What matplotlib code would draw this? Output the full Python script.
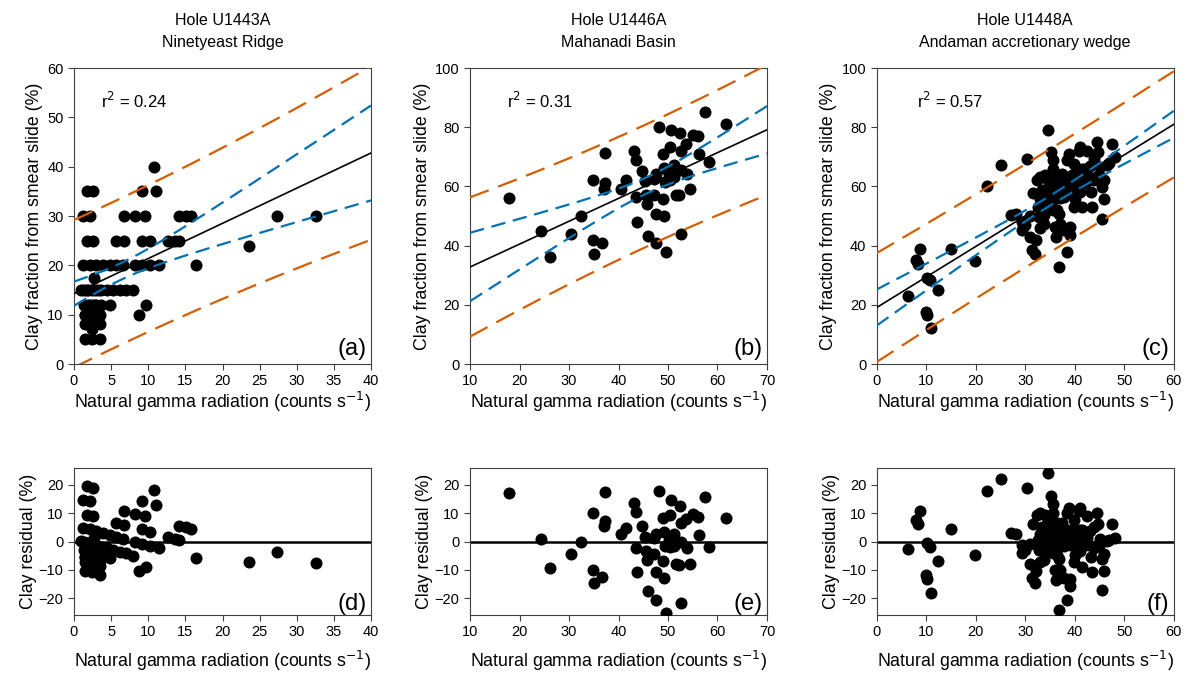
import numpy as np
import matplotlib
matplotlib.use("Agg")
import matplotlib.pyplot as plt

plt.rcParams['font.family'] = ['Liberation Sans', 'DejaVu Sans']

# Hole U1443A - Ninetyeast Ridge
a_x = [1.8, 2.5, 9.1, 11.0, 10.8,
       1.25, 2.2, 6.8, 8.2, 9.5, 14.2, 15.1, 15.8, 27.3, 32.6,
       1.7, 2.6, 5.7, 6.8, 9.1, 10.2, 12.7, 13.6, 14.2, 23.6,
       1.25, 2.1, 3.0, 3.9, 4.8, 5.7, 6.6, 8.2, 9.1, 10.2, 11.5, 16.4,
       2.7, 1.0, 1.9, 2.8, 3.7, 4.4, 5.3, 6.2, 7.0, 8.0,
       1.9, 2.8, 3.7, 4.8, 9.7, 1.5, 2.4, 3.3, 8.8,
       1.5, 2.6, 3.5, 2.4, 1.5, 2.4, 3.5,
       1.5, 2.0, 2.6, 3.0, 2.2, 1.3, 1.8, 2.4, 3.2, 1.4,
       2.6, 3.5, 2.9]
a_y = [35, 35, 35, 35, 40,
       30, 30, 30, 30, 30, 30, 30, 30, 30, 30,
       25, 25, 25, 25, 25, 25, 25, 25, 25, 24,
       20, 20, 20, 20, 20, 20, 20, 20, 20, 20, 20, 20,
       17.5, 15, 15, 15, 15, 15, 15, 15, 15, 15,
       12, 12, 12, 12, 12, 10, 10, 10, 10,
       8.2, 8.2, 8.2, 7, 5, 5, 5,
       10, 10, 10, 12, 12, 12, 15, 15, 15, 15,
       12, 10, 10]

# Hole U1446A - Mahanadi Basin
b_x = [17.9, 24.4, 26.1, 30.4, 32.5, 34.9, 34.9, 35.0, 36.6, 37.2,
       37.2, 37.0, 40.6, 41.6, 43.1, 43.6, 43.8, 44.7, 43.6, 45.3,
       45.6, 45.8, 46.0, 47.2, 47.5, 47.5, 47.5, 48.2, 49.1, 48.9,
       48.9, 49.1, 49.5, 50.5, 50.7, 50.2, 50.4, 51.2, 51.6, 52.4,
       52.6, 52.6, 52.6, 53.6, 53.9, 54.5, 55.0, 56.1, 56.3, 57.4,
       58.3, 61.7, 52.2, 51.2, 47.2, 49.3]
b_y = [56.2, 44.9, 36.0, 44.0, 50.1, 62.0, 42.0, 37.3, 40.9, 71.2,
       61.1, 59.2, 59.2, 62.0, 72.1, 69.0, 48.0, 65.2, 56.4, 61.8,
       57.0, 53.9, 43.1, 62.6, 64.3, 40.9, 50.8, 80.0, 49.9, 71.0,
       55.8, 66.3, 37.9, 73.3, 78.9, 64.3, 62.0, 63.1, 57.0, 78.0,
       44.0, 65.4, 72.1, 74.4, 64.3, 59.2, 77.2, 76.9, 71.0, 85.1,
       68.2, 81.1, 57.0, 67.1, 57.0, 61.5]

# Hole U1448A - Andaman accretionary wedge
c_x = [6.4, 8.0, 8.8, 8.4, 10.0, 10.2, 10.2, 10.8, 10.9, 12.3,
       15.0, 19.9, 22.3, 25.2, 27.2, 28.2, 29.3, 30.3, 29.3, 30.9,
       31.4, 32.0, 32.2, 31.6, 32.4, 33.0, 33.4, 33.7, 34.7, 35.2,
       35.7, 34.7, 35.4, 34.9, 35.7, 36.1, 36.3, 36.8, 37.1, 37.4,
       37.1, 37.8, 38.4, 38.4, 39.1, 39.1, 38.8, 39.1, 40.1, 40.8,
       41.1, 41.5, 42.5, 42.1, 43.2, 43.5, 43.8, 44.4, 44.5, 44.8,
       45.2, 45.5, 45.9, 45.6, 46.5, 47.5, 48.2, 33.0, 34.4, 39.8,
       36.4, 32.7, 34.1, 39.8, 41.1, 37.8, 36.8, 41.1, 42.8, 33.7,
       35.7, 39.8, 43.8,
       31.0, 32.5, 33.5, 34.0, 35.0, 35.5, 36.0, 36.5, 37.0, 37.5,
       38.0, 38.5, 39.0, 39.5, 40.0, 40.5, 41.0, 41.5, 42.0, 42.5,
       43.0, 44.0, 45.0, 46.0, 47.0, 30.0, 33.0, 36.5]
c_y = [22.9, 35.1, 39.0, 33.9, 17.6, 16.5, 28.9, 28.3, 12.0, 24.9,
       39.0, 34.8, 60.0, 67.1, 50.2, 50.8, 48.0, 69.3, 45.2, 42.9,
       38.4, 37.3, 41.8, 57.8, 62.0, 63.1, 58.7, 50.2, 79.1, 71.6,
       69.0, 62.0, 59.8, 54.7, 51.9, 46.3, 42.9, 32.8, 47.4, 64.3,
       59.8, 56.4, 68.8, 37.9, 43.5, 46.3, 71.0, 62.0, 55.8, 72.1,
       73.3, 53.0, 72.1, 66.0, 58.1, 53.0, 69.3, 63.1, 74.9, 71.6,
       66.5, 59.8, 55.8, 49.1, 67.1, 74.4, 69.9, 55.8, 57.5, 67.6,
       63.1, 49.7, 63.7, 61.5, 65.4, 45.2, 50.8, 58.1, 62.0, 47.4,
       66.0, 53.0, 62.0,
       50.0, 53.0, 56.0, 52.0, 57.0, 55.0, 58.5, 60.0, 56.0, 61.0,
       59.0, 63.0, 58.0, 64.0, 60.0, 63.5, 62.0, 66.0, 61.0, 64.0,
       67.0, 62.5, 64.0, 62.0, 68.0, 47.0, 46.0, 52.0]

titles = ["Hole U1443A\nNinetyeast Ridge", "Hole U1446A\nMahanadi Basin",
          "Hole U1448A\nAndaman accretionary wedge"]
r2_labels = ["r$^2$ = 0.24", "r$^2$ = 0.31", "r$^2$ = 0.57"]
top_letters = ["(a)", "(b)", "(c)"]
bot_letters = ["(d)", "(e)", "(f)"]
xlims = [(0, 40), (10, 70), (0, 60)]
ylims = [(0, 60), (0, 100), (0, 100)]
r2_pos = [0.09, 0.125, 0.135]

datasets = [(a_x, a_y), (b_x, b_y), (c_x, c_y)]

orange = '#D55E00'
blue = '#0072B2'

fig = plt.figure(figsize=(11.89, 6.85), dpi=100)
lefts = [74 / 1189, 470 / 1189, 876.7 / 1189]
w = 297 / 1189
top_ax = [fig.add_axes([l, 1 - 364 / 685, w, 296 / 685]) for l in lefts]
bot_ax = [fig.add_axes([l, 1 - 615 / 685, w, 147 / 685]) for l in lefts]

xlabel = "Natural gamma radiation (counts s$^{-1}$)"
lab_fs = 12.8

for i, (x, y) in enumerate(datasets):
    x = np.array(x)
    y = np.array(y)
    n = len(x)
    slope, icpt = np.polyfit(x, y, 1)
    fitted = icpt + slope * x
    resid = y - fitted
    s = np.sqrt(np.sum(resid ** 2) / (n - 2))
    xm = x.mean()
    sxx = np.sum((x - xm) ** 2)
    t = 1.98
    xs = np.linspace(xlims[i][0], xlims[i][1], 200)
    ys = icpt + slope * xs
    ci = t * s * np.sqrt(1 / n + (xs - xm) ** 2 / sxx)
    pi = t * s * np.sqrt(1 + 1 / n + (xs - xm) ** 2 / sxx)

    ax = top_ax[i]
    ax.scatter(x, y, s=75, color='black', zorder=3, linewidths=0)
    ax.plot(xs, ys, color='black', lw=1.2, zorder=4)
    ax.plot(xs, ys + ci, color=blue, lw=1.6, dashes=(6.5, 3.5), zorder=4)
    ax.plot(xs, ys - ci, color=blue, lw=1.6, dashes=(6.5, 3.5), zorder=4)
    ax.plot(xs, ys + pi, color=orange, lw=1.6, dashes=(9, 4.5), zorder=4)
    ax.plot(xs, ys - pi, color=orange, lw=1.6, dashes=(9, 4.5), zorder=4)
    ax.set_xlim(*xlims[i])
    ax.set_ylim(*ylims[i])
    ax.set_title(titles[i], fontsize=11.5, pad=15, linespacing=1.6)
    ax.set_xlabel(xlabel, fontsize=lab_fs, labelpad=1)
    ax.set_ylabel("Clay fraction from smear slide (%)", fontsize=lab_fs, labelpad=3)
    ax.text(r2_pos[i], 0.89, r2_labels[i], transform=ax.transAxes, fontsize=12,
            va='center')
    ax.text(0.985, 0.015, top_letters[i], transform=ax.transAxes, fontsize=17,
            ha='right', va='bottom')

    bx = bot_ax[i]
    bx.scatter(x, resid, s=75, color='black', zorder=3, linewidths=0)
    bx.axhline(0, color='black', lw=1.8, zorder=2)
    bx.set_xlim(*xlims[i])
    bx.set_ylim(-26, 26)
    bx.set_yticks([-20, -10, 0, 10, 20])
    bx.set_xlabel(xlabel, fontsize=lab_fs, labelpad=7)
    bx.set_ylabel("Clay residual (%)", fontsize=lab_fs, labelpad=1)
    bx.text(0.985, 0.0, bot_letters[i], transform=bx.transAxes, fontsize=17,
            ha='right', va='bottom')

for ax in top_ax + bot_ax:
    ax.tick_params(direction='out', length=4, labelsize=10.5, top=False, right=False,
                   color='#404040')
    for sp in ax.spines.values():
        sp.set_color('#404040')
        sp.set_linewidth(0.8)

top_ax[0].set_yticks(range(0, 61, 10))
top_ax[0].set_xticks(range(0, 41, 5))
top_ax[1].set_xticks(range(10, 71, 10))
top_ax[2].set_xticks(range(0, 61, 10))
for j, ax in enumerate(bot_ax):
    ax.set_xticks(top_ax[j].get_xticks())

fig.savefig("out.png", dpi=100)
